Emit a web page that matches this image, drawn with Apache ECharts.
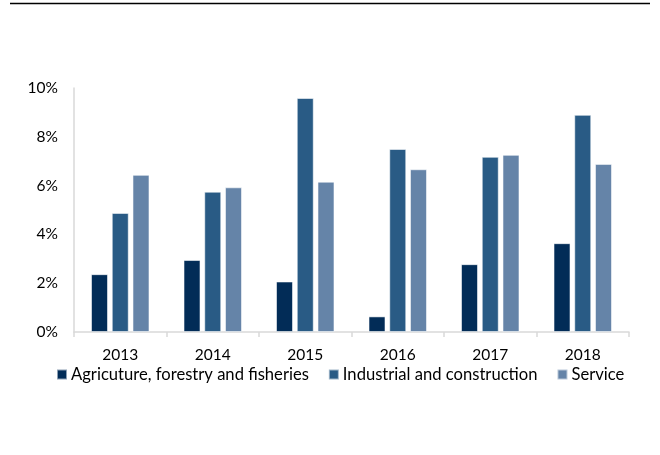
<!DOCTYPE html>
<html>
<head>
<meta charset="utf-8">
<script src="https://cdn.jsdelivr.net/npm/echarts@6/dist/echarts.min.js"></script>
<style>
  html, body { margin: 0; padding: 0; background: #ffffff; }
  #chart { width: 660px; height: 455px; }
</style>
</head>
<body>
<div id="chart"></div>
<script>
// Annual growth by sector, percent
const years = ['2013', '2014', '2015', '2016', '2017', '2018'];
const agriculture = [2.37, 2.95, 2.07, 0.64, 2.78, 3.64];
const industrial = [4.88, 5.75, 9.59, 7.50, 7.18, 8.90];
const service = [6.44, 5.93, 6.16, 6.67, 7.26, 6.89];
const yTicks = [0, 2, 4, 6, 8, 10];

const seriesNames = ['Agricuture, forestry and fisheries', 'Industrial and construction', 'Service'];
const seriesColors = ['#022c57', '#295b85', '#6584a8'];
const seriesData = [agriculture, industrial, service];

const font = 'Lato, "Open Sans", sans-serif';

const chart = echarts.init(document.getElementById('chart'), null, { renderer: 'canvas' });

chart.setOption({
  backgroundColor: '#ffffff',
  animation: false,
  graphic: [{
    type: 'line',
    shape: { x1: 10, y1: 3.5, x2: 650, y2: 3.5 },
    style: { stroke: '#000000', lineWidth: 1.5 }
  }],
  grid: { left: 74, right: 31, top: 88, bottom: 123, containLabel: false },
  legend: {
    top: 366,
    left: 56,
    padding: 0,
    itemWidth: 10,
    itemHeight: 10,
    itemGap: 19,
    icon: 'rect',
    textStyle: { fontFamily: font, fontSize: 16.6, color: '#000000', padding: [0, 0, 0, -1] },
    data: seriesNames
  },
  xAxis: {
    type: 'category',
    data: years,
    axisLine: { lineStyle: { color: '#d9d9d9', width: 1.5 } },
    axisTick: { show: true, length: 5, lineStyle: { color: '#d9d9d9', width: 1.5 } },
    axisLabel: { fontFamily: font, fontSize: 15.5, color: '#000000', margin: 15 }
  },
  yAxis: {
    type: 'value',
    min: yTicks[0],
    max: yTicks[yTicks.length - 1],
    interval: 2,
    axisLine: { show: true, lineStyle: { color: '#d9d9d9', width: 1.5 } },
    axisTick: { show: false },
    splitLine: { show: false },
    axisLabel: {
      fontFamily: font, fontSize: 15.5, color: '#000000', margin: 16,
      formatter: v => v + '%'
    }
  },
  series: seriesNames.map((name, i) => ({
    name: name,
    type: 'bar',
    data: seriesData[i],
    barWidth: 17,
    barGap: '22%',
    itemStyle: { color: seriesColors[i], borderColor: 'rgba(255,255,255,0.55)', borderWidth: 1 }
  }))
});
</script>
</body>
</html>
